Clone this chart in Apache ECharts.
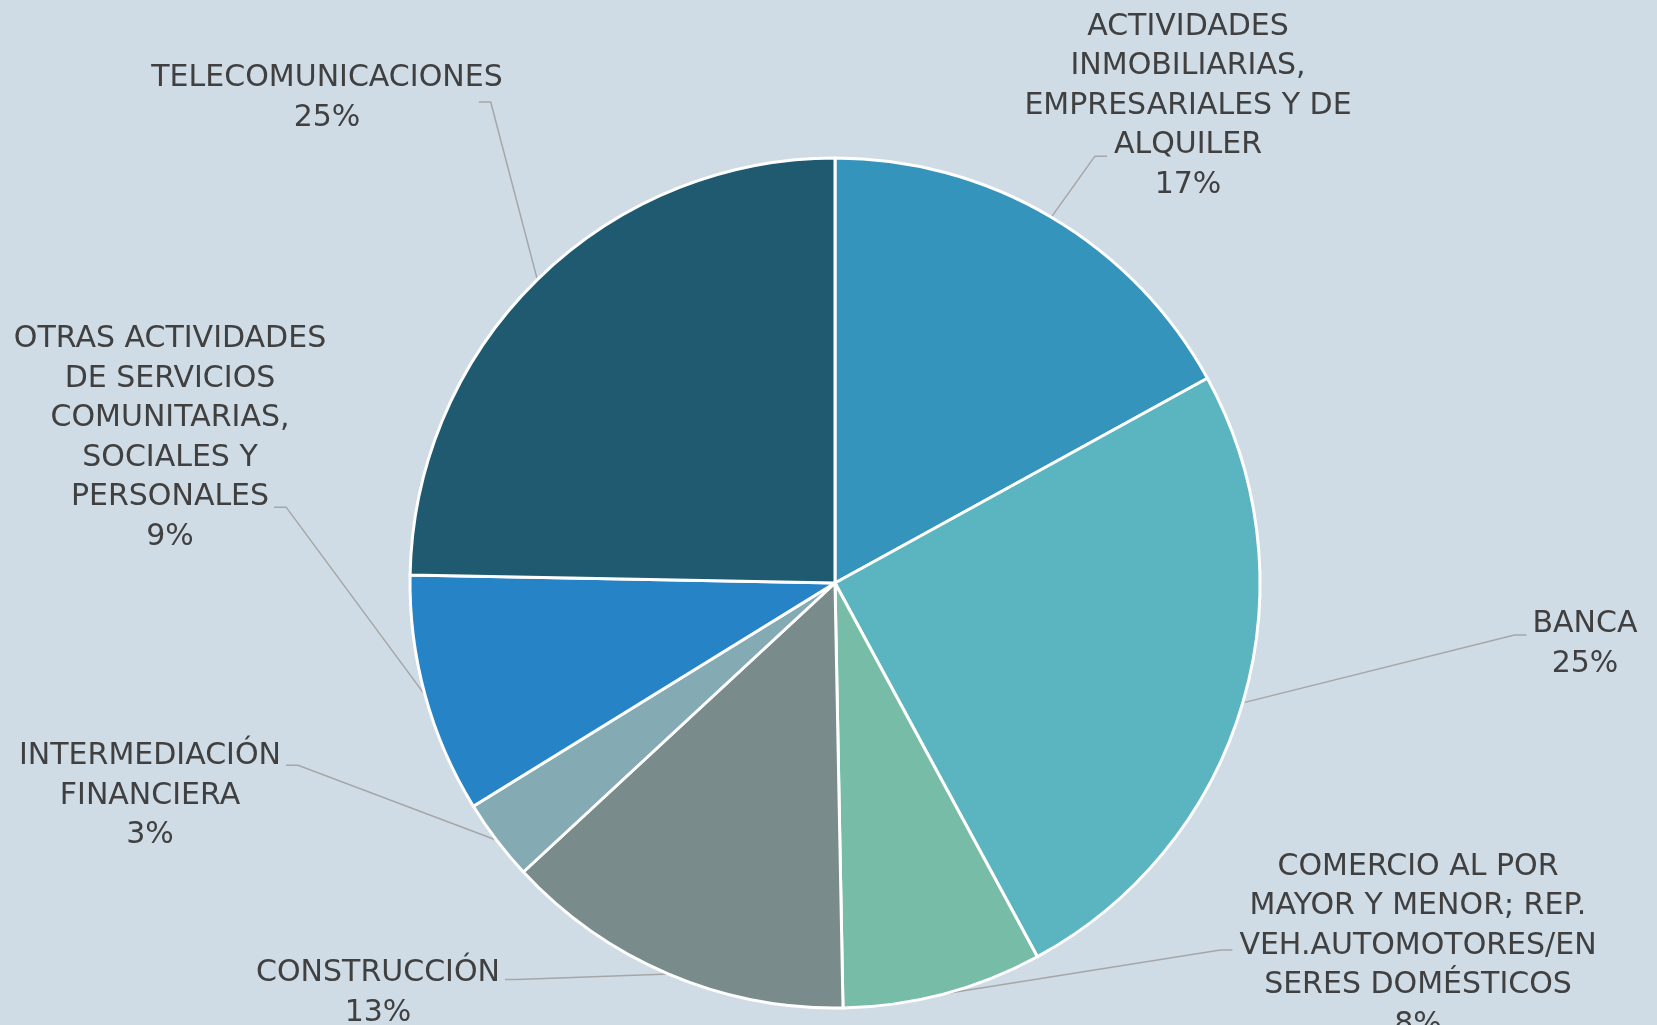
<!DOCTYPE html>
<html>
<head>
<meta charset="utf-8">
<script src="https://cdn.jsdelivr.net/npm/echarts@6/dist/echarts.min.js"></script>
<style>
html,body{margin:0;padding:0;background:#CFDCE6;}
#chart{width:1657px;height:1025px;}
</style>
</head>
<body>
<div id="chart"></div>
<script>
// Data (percent shares)
const categories = [
  'ACTIVIDADES\nINMOBILIARIAS,\nEMPRESARIALES Y DE\nALQUILER',
  'BANCA',
  'COMERCIO AL POR\nMAYOR Y MENOR; REP.\nVEH.AUTOMOTORES/EN\nSERES DOMÉSTICOS',
  'CONSTRUCCIÓN',
  'INTERMEDIACIÓN\nFINANCIERA',
  'OTRAS ACTIVIDADES\nDE SERVICIOS\nCOMUNITARIAS,\nSOCIALES Y\nPERSONALES',
  'TELECOMUNICACIONES'
];
const values = [17.0, 25.1, 7.6, 13.4, 3.1, 9.1, 24.7];

// Styling
const colors = ['#3594BB', '#5AB5C0', '#76BCA7', '#7A8B8C', '#84AAB3', '#2683C6', '#1F5A70'];
const FONT_SIZE = 30, LINE_H = 39.5, FONT_FAMILY = 'DejaVu Sans';
const labelPos = [
  [1188, 106], [1585, 644], [1418, 946], [378, 993], [150, 796], [170, 438], [327, 98]
];
// leader attachment: [text line index, y in line units from block top, side, gap]
const attach = [
  [3, 3.77, 'left', 7], [0, 0.77, 'left', 6], [2, 2.6, 'left', 7], [0, 0.66, 'right', 5],
  [0, 0.72, 'right', 5], [4, 4.75, 'right', 5], [0, 1.1, 'right', -24]
];
const SEG = 12;

const measureCtx = document.createElement('canvas').getContext('2d');
measureCtx.font = FONT_SIZE + 'px "' + FONT_FAMILY + '"';

const chart = echarts.init(document.getElementById('chart'));
chart.setOption({
  backgroundColor: '#CFDCE6',
  animation: false,
  series: [{
    type: 'pie',
    center: [835, 583],
    radius: 425,
    startAngle: 90,
    clockwise: true,
    avoidLabelOverlap: false,
    data: categories.map((n, i) => ({
      name: n, value: values[i],
      itemStyle: { color: colors[i] }
    })),
    itemStyle: { borderColor: '#FFFFFF', borderWidth: 3 },
    label: {
      show: true,
      position: 'outside',
      formatter: p => p.name + '\n' + Math.round(p.percent) + '%',
      fontFamily: FONT_FAMILY,
      fontSize: FONT_SIZE,
      lineHeight: LINE_H,
      color: '#404040',
      align: 'center'
    },
    labelLine: {
      show: true,
      length: 20,
      length2: 14,
      lineStyle: { color: '#A6A6A6', width: 1.5 }
    },
    labelLayout: function (params) {
      const i = params.dataIndex;
      const p = labelPos[i];
      const lines = categories[i].split('\n');
      const n = lines.length + 1;
      const top = p[1] - n * LINE_H / 2;
      const a = attach[i];
      const w = measureCtx.measureText(lines[a[0]]).width;
      const y = top + a[1] * LINE_H;
      let xEnd, xElbow;
      if (a[2] === 'left') {
        xEnd = p[0] - w / 2 - a[3];
        xElbow = xEnd - SEG;
      } else {
        xEnd = p[0] + w / 2 + a[3];
        xElbow = xEnd + SEG;
      }
      const res = { x: p[0], y: p[1], align: 'center', verticalAlign: 'middle' };
      if (params.labelLinePoints && params.labelLinePoints.length) {
        const s = params.labelLinePoints[0];
        res.labelLinePoints = [[s[0], s[1]], [xElbow, y], [xEnd, y]];
      }
      return res;
    }
  }]
});
</script>
</body>
</html>
